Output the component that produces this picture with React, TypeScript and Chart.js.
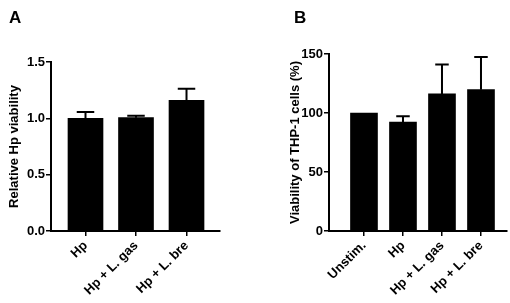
import React, { useEffect, useRef } from 'react';
import { Chart, registerables } from 'chart.js';

Chart.register(...registerables);

const categoriesA = ['Hp', 'Hp + L. gas', 'Hp + L. bre'];
const valuesA = [1.0, 1.006, 1.159];
const errorsA = [0.056, 0.018, 0.104];
const yTicksA = [0, 0.5, 1.0, 1.5];
const yTitleA = 'Relative Hp viability';

const categoriesB = ['Unstim.', 'Hp', 'Hp + L. gas', 'Hp + L. bre'];
const valuesB = [100, 92.2, 116.2, 119.8];
const errorsB = [0, 5.1, 24.8, 27.7];
const yTicksB = [0, 50, 100, 150];
const yTitleB = 'Viability of THP-1 cells (%)';

const FONT = '"Liberation Sans", Arial, Helvetica, sans-serif';

const errorBarPlugin = {
  id: 'errorBars',
  afterDatasetsDraw(chart: any, _args: any, opts: any) {
    const errs: number[] = opts.errors || [];
    const meta = chart.getDatasetMeta(0);
    const ys = chart.scales.y;
    const ctx = chart.ctx;
    ctx.save();
    ctx.strokeStyle = '#000';
    ctx.lineWidth = 2;
    meta.data.forEach((el: any, i: number) => {
      const e = errs[i];
      if (!e) return;
      const raw = chart.data.datasets[0].data[i];
      const topPx = ys.getPixelForValue(raw.y + e);
      const half = opts.capWidth / 2;
      ctx.beginPath();
      ctx.moveTo(el.x, el.y);
      ctx.lineTo(el.x, topPx);
      ctx.moveTo(el.x - half, topPx);
      ctx.lineTo(el.x + half, topPx);
      ctx.stroke();
    });
    ctx.restore();
  },
};

type PanelProps = {
  left: number;
  categories: string[];
  values: number[];
  errors: number[];
  yTicks: number[];
  yTitle: string;
  decimals: number;
  yAxisWidth: number;
  padTop: number;
  padRight: number;
  xMin: number;
  xMax: number;
  barThickness: number;
  titlePad: number;
  xAxisHeight: number;
};

function Panel(p: PanelProps) {
  const ref = useRef<HTMLCanvasElement>(null);
  useEffect(() => {
    if (!ref.current) return;
    const tickFont = { family: FONT, size: 13, weight: 'bold' as const };
    const chart = new Chart(ref.current, {
      type: 'bar',
      data: {
        datasets: [
          {
            data: p.values.map((v, i) => ({ x: i, y: v })),
            backgroundColor: '#000',
            borderWidth: 0,
            barThickness: p.barThickness,
          },
        ],
      },
      options: {
        animation: false,
        responsive: false,
        layout: { padding: { top: p.padTop, right: p.padRight, left: 0, bottom: 0 } },
        plugins: {
          legend: { display: false },
          tooltip: { enabled: false },
          errorBars: { errors: p.errors, capWidth: p.barThickness / 2 },
        } as any,
        scales: {
          x: {
            type: 'linear',
            offset: false,
            min: p.xMin,
            max: p.xMax,
            afterBuildTicks: (s: any) => {
              s.ticks = p.categories.map((_, i) => ({ value: i }));
            },
            afterFit: (s: any) => {
              s.height = p.xAxisHeight;
            },
            ticks: {
              autoSkip: false,
              minRotation: 45,
              maxRotation: 45,
              color: '#000',
              font: tickFont,
              padding: 2,
              callback: (v: any) => p.categories[Math.round(Number(v))] ?? '',
            },
            grid: { offset: false, drawOnChartArea: false, drawTicks: true, tickLength: 5, color: '#000', lineWidth: 1.5 },
            border: { color: '#000', width: 2 },
          },
          y: {
            type: 'linear',
            min: p.yTicks[0],
            max: p.yTicks[p.yTicks.length - 1],
            afterBuildTicks: (s: any) => {
              s.ticks = p.yTicks.map((v) => ({ value: v }));
            },
            afterFit: (s: any) => {
              s.width = p.yAxisWidth;
            },
            ticks: {
              color: '#000',
              font: tickFont,
              padding: 1,
              callback: (v: any) => Number(v).toFixed(p.decimals),
            },
            title: {
              display: true,
              text: p.yTitle,
              color: '#000',
              font: { family: FONT, size: 13, weight: 'bold' },
              padding: { top: p.titlePad, bottom: 0 },
            },
            grid: { drawOnChartArea: false, drawTicks: true, tickLength: 5, color: '#000', lineWidth: 1.5 },
            border: { color: '#000', width: 2 },
          },
        },
      } as any,
      plugins: [errorBarPlugin as any],
    });
    return () => chart.destroy();
  }, []);
  return (
    <canvas
      ref={ref}
      width={255}
      height={303}
      style={{ position: 'absolute', left: p.left, top: 0, width: 255, height: 303, display: 'block' }}
    />
  );
}

const letterStyle = (left: number): React.CSSProperties => ({
  position: 'absolute',
  left,
  top: 9,
  fontFamily: FONT,
  fontWeight: 'bold',
  fontSize: 17,
  lineHeight: '17px',
  color: '#000',
});

export default function App() {
  return (
    <div style={{ position: 'absolute', left: 0, top: 0, width: 510, height: 303, background: '#fff', overflow: 'hidden' }}>
      <Panel
        left={0}
        categories={categoriesA}
        values={valuesA}
        errors={errorsA}
        yTicks={yTicksA}
        yTitle={yTitleA}
        decimals={1}
        yAxisWidth={51}
        padTop={62}
        padRight={35}
        xMin={-0.683}
        xMax={2.663}
        barThickness={35}
        titlePad={7}
        xAxisHeight={72}
      />
      <Panel
        left={255}
        categories={categoriesB}
        values={valuesB}
        errors={errorsB}
        yTicks={yTicksB}
        yTitle={yTitleB}
        decimals={0}
        yAxisWidth={74}
        padTop={54}
        padRight={3}
        xMin={-0.897}
        xMax={3.667}
        barThickness={27}
        titlePad={33}
        xAxisHeight={72}
      />
      <div style={letterStyle(9)}>A</div>
      <div style={letterStyle(294)}>B</div>
    </div>
  );
}
